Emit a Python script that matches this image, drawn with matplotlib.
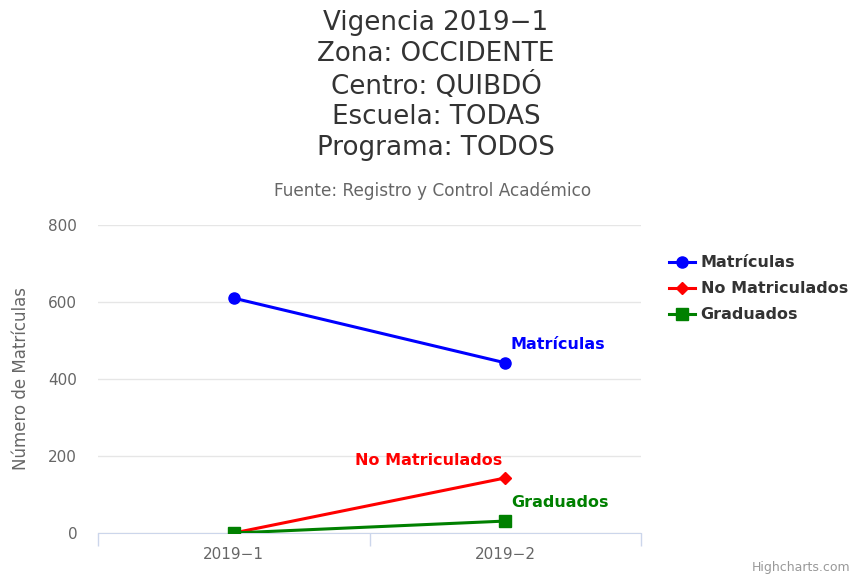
import matplotlib
matplotlib.use('Agg')
import matplotlib.pyplot as plt

plt.rcParams['font.family'] = ['DejaVu Sans']

# Data
periodos = ['2019\u22121', '2019\u22122']
matriculas = [610, 442]
no_matriculados = [0, 143]
graduados = [0, 31]

titulo = ['Vigencia 2019\u22121', 'Zona: OCCIDENTE', 'Centro: QUIBDÓ',
          'Escuela: TODAS', 'Programa: TODOS']
subtitulo = 'Fuente: Registro y Control Académico'

fig = plt.figure(figsize=(8.54, 5.77), dpi=100)
ax = fig.add_axes([98/854, 1-533/577, (641-98)/854, (533-225)/577])

x = list(range(len(periodos)))
ax.plot(x, matriculas, color='#0000ff', lw=2.2, marker='o', ms=8, label='Matrículas', zorder=4)
ax.plot(x, no_matriculados, color='#ff0000', lw=2.2, marker='D', ms=6, label='No Matriculados', zorder=3)
ax.plot(x, graduados, color='#008000', lw=2.2, marker='s', ms=9, label='Graduados', zorder=5)

# labels on the last point
ax.annotate('Matrículas', (x[-1], matriculas[-1]), xytext=(4, 8), textcoords='offset points',
            color='#0000ff', fontsize=11.5, fontweight='bold', ha='left', va='bottom')
ax.annotate('No Matriculados', (x[-1], no_matriculados[-1]), xytext=(-2, 7), textcoords='offset points',
            color='#ff0000', fontsize=11.5, fontweight='bold', ha='right', va='bottom')
ax.annotate('Graduados', (x[-1], graduados[-1]), xytext=(4, 8), textcoords='offset points',
            color='#008000', fontsize=11.5, fontweight='bold', ha='left', va='bottom')

ax.set_xlim(-0.5, len(periodos) - 0.5)
ax.set_ylim(0, 800)
ax.set_yticks([0, 200, 400, 600, 800])
ax.set_xticks(x)
ax.set_xticklabels(periodos)
ax.set_xticks([-0.5, 0.5, 1.5], minor=True)
ax.tick_params(axis='x', which='major', length=0, colors='#666666', labelsize=11, pad=10)
ax.tick_params(axis='x', which='minor', length=9, color='#ccd6eb', width=1)
ax.tick_params(axis='y', length=0, colors='#666666', labelsize=11, pad=15)
ax.grid(axis='y', color='#e6e6e6', lw=1)
ax.set_axisbelow(True)
for s in ['top', 'right', 'left']:
    ax.spines[s].set_visible(False)
ax.spines['bottom'].set_color('#ccd6eb')
ax.set_ylabel('Número de Matrículas', color='#666666', fontsize=12, labelpad=13)

fig.text(436/854, 1-10/577, '\n'.join(titulo), ha='center', va='top', fontsize=18.8,
         color='#333333', linespacing=1.23)
fig.text(433/854, 1-191/577, subtitulo, ha='center', va='center', fontsize=12.2, color='#666666')

leg = ax.legend(loc='upper left', bbox_to_anchor=(663/854, 1-249/577), bbox_transform=fig.transFigure,
                frameon=False, prop={'weight': 'bold', 'size': 11.5}, handlelength=1.6,
                labelspacing=0.68, handletextpad=0.35, borderaxespad=0)
for t in leg.get_texts():
    t.set_color('#333333')

fig.text(850/854, 1-574/577, 'Highcharts.com', ha='right', va='bottom', fontsize=9, color='#999999')

fig.savefig('out.png', dpi=100)
